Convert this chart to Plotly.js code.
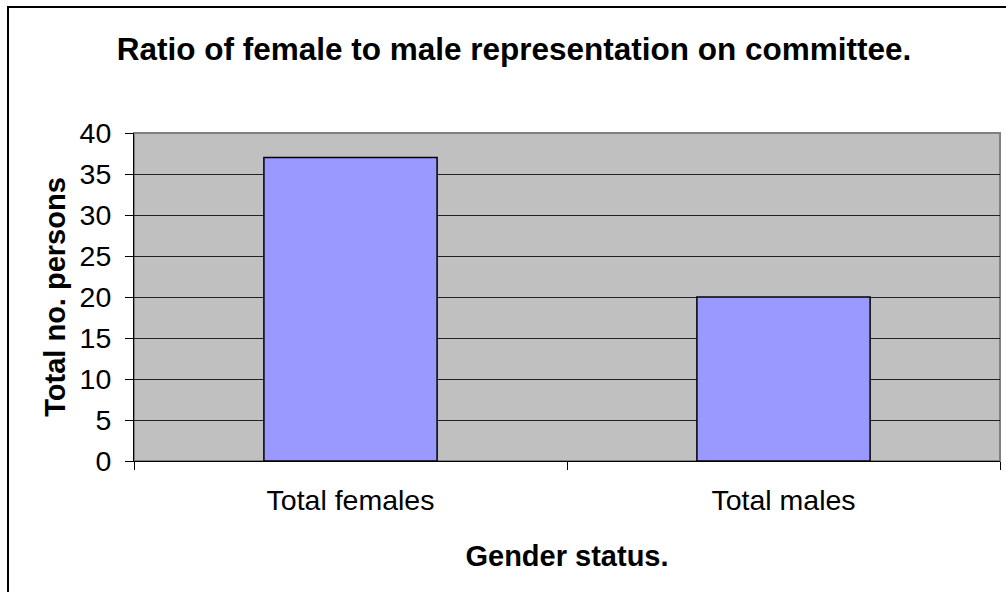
<!DOCTYPE html>
<html>
<head>
<meta charset="utf-8">
<script src="https://cdn.plot.ly/plotly-3.0.1.min.js"></script>
<style>html,body{margin:0;padding:0;background:#fff;}#chart{width:1006px;height:592px;}</style>
</head>
<body>
<div id="chart"></div>
<script>
const categories = ["Total females", "Total males"];
const values = [37, 20];
const yTicks = [0, 5, 10, 15, 20, 25, 30, 35, 40];

const W = 1006, H = 592;
const m = {l: 134, r: 6, t: 133, b: 131};
const pw = W - m.l - m.r, ph = H - m.t - m.b;
const px = v => (v - m.l) / pw;
const py = v => (H - m.b - v) / ph;

const font = "Liberation Sans, Arial, sans-serif";

const trace = {
  type: "bar",
  x: categories,
  y: values,
  marker: {color: "#9999FF", line: {color: "#000000", width: 1.5}},
  hoverinfo: "skip"
};

const layout = {
  width: W, height: H,
  margin: m,
  paper_bgcolor: "#FFFFFF",
  plot_bgcolor: "#C0C0C0",
  bargap: 0.6,
  showlegend: false,
  font: {family: font, color: "#000"},
  title: {
    text: "<b>Ratio of female to male representation on committee.</b>",
    font: {family: font, size: 31.5, color: "#000"},
    xref: "container", yref: "container",
    x: 514 / W, xanchor: "center",
    y: 1 - 49 / H, yanchor: "middle"
  },
  xaxis: {
    type: "category",
    tickson: "boundaries",
    ticks: "outside", ticklen: 8, tickcolor: "#000", tickwidth: 1,
    ticklabelstandoff: 14,
    showline: true, linecolor: "#000", linewidth: 1,
    showgrid: false, zeroline: false,
    tickfont: {family: font, size: 28.5, color: "#000"},
    title: {text: "<b>Gender status.</b>", font: {family: font, size: 29, color: "#000"}, standoff: 30}
  },
  yaxis: {
    range: [0, 40],
    tickvals: yTicks,
    ticktext: yTicks.map(String),
    ticks: "outside", ticklen: 8, tickcolor: "#000", tickwidth: 1,
    ticklabelstandoff: 8,
    showline: true, linecolor: "#000", linewidth: 1,
    showgrid: true, gridcolor: "#222", gridwidth: 1,
    zeroline: false,
    tickfont: {family: font, size: 28.5, color: "#000"},
    title: {text: "<b>Total no. persons</b>", font: {family: font, size: 29, color: "#000"}, standoff: 5}
  },
  shapes: [
    {type: "rect", xref: "paper", yref: "paper", x0: 0, x1: 1, y0: 0, y1: 1,
     line: {color: "#808080", width: 2}, layer: "below"},
    {type: "rect", xref: "paper", yref: "paper",
     x0: px(8), x1: px(1012), y0: py(600), y1: py(7),
     line: {color: "#000", width: 2}, fillcolor: "rgba(0,0,0,0)"}
  ]
};

Plotly.newPlot("chart", [trace], layout, {displayModeBar: false, staticPlot: true});
</script>
</body>
</html>
